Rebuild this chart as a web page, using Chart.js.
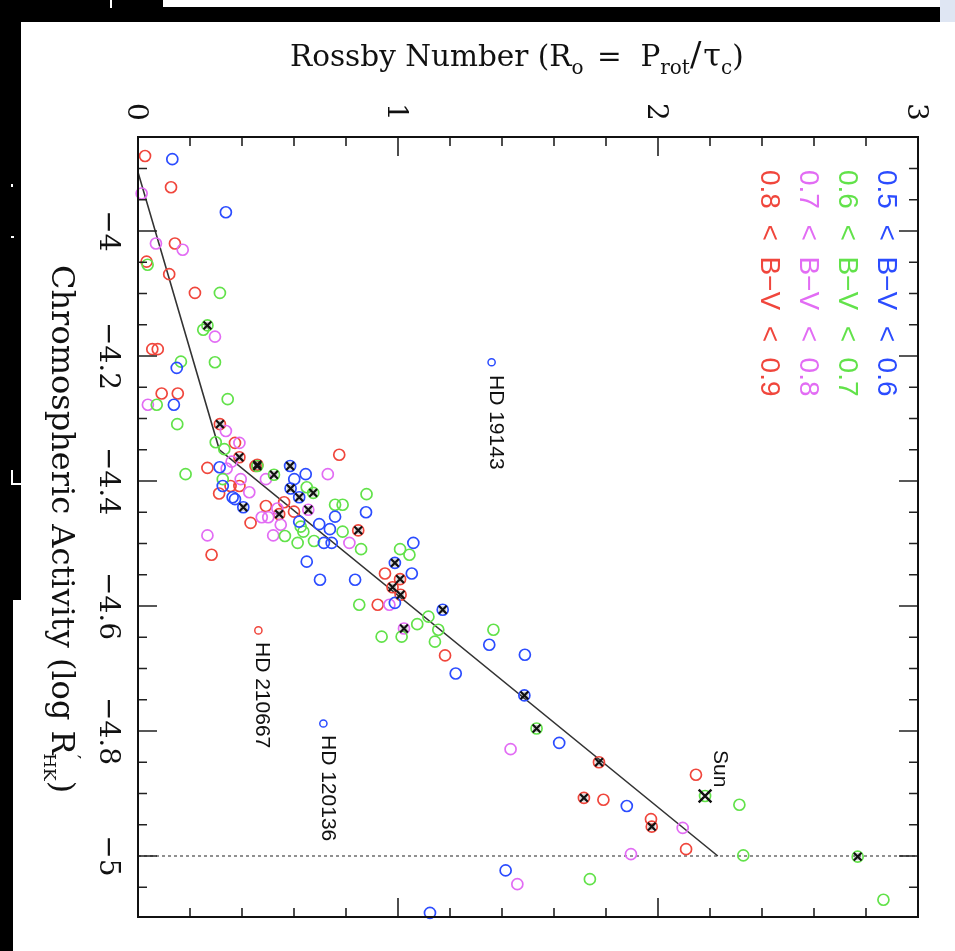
<!DOCTYPE html>
<html>
<head>
<meta charset="utf-8">
<script src="https://cdn.jsdelivr.net/npm/chart.js@4/dist/chart.umd.min.js"></script>
<style>
  html, body { margin:0; padding:0; background:#fff; }
  #wrap { position:relative; width:955px; height:951px; overflow:hidden; background:#fff; }
  canvas { position:absolute; left:0; top:0; }
  .blk { position:absolute; background:#000; }
  .wht { position:absolute; background:#fff; }
</style>
</head>
<body>
<div id="wrap">
  <canvas id="c" width="955" height="951"></canvas>
  <div class="blk" style="left:0;top:0;width:955px;height:22px"></div>
  <div class="wht" style="left:163px;top:0;width:777px;height:7px"></div>
  <div style="position:absolute;left:940px;top:0;width:15px;height:22px;background:#dfe6f3"></div>
  <div class="wht" style="left:110px;top:0;width:2px;height:8px"></div>
  <div class="blk" style="left:0;top:0;width:21px;height:600px"></div>
  <div class="blk" style="left:0;top:600px;width:13px;height:351px"></div>
  <div class="wht" style="left:11px;top:184px;width:2px;height:3px"></div>
  <div class="wht" style="left:11px;top:236px;width:3px;height:2px"></div>
  <div class="wht" style="left:11px;top:470px;width:2px;height:14px"></div>
  <div class="wht" style="left:11px;top:483px;width:10px;height:2px"></div>
</div>
<script>
// ---------- data (x = Rossby number, y = log R'HK) ----------
const bluePts = [[0.132,-3.885],[0.338,-3.970],[0.149,-4.219],[0.138,-4.278],[0.314,-4.378],[0.645,-4.389],
  [0.601,-4.397],[0.326,-4.408],[0.364,-4.426],[0.373,-4.429],[0.877,-4.450],[0.758,-4.457],[0.620,-4.465],
  [0.697,-4.469],[0.738,-4.477],[0.715,-4.499],[0.745,-4.499],[1.059,-4.499],[0.649,-4.529],[1.053,-4.548],
  [0.700,-4.558],[0.835,-4.558],[0.988,-4.595],[1.351,-4.662],[1.488,-4.678],[1.222,-4.708],[1.620,-4.819],
  [1.880,-4.920],[1.414,-5.023],[1.123,-5.091]];
const blueCross = [[0.585,-4.376],[0.587,-4.412],[0.620,-4.426],[0.405,-4.442],[0.988,-4.531],[1.172,-4.606],[1.486,-4.743]];

const greenPts = [[0.037,-4.054],[0.315,-4.099],[0.251,-4.158],[0.165,-4.209],[0.296,-4.210],[0.345,-4.269],
  [0.072,-4.278],[0.151,-4.309],[0.299,-4.338],[0.332,-4.349],[0.183,-4.389],[0.326,-4.397],[0.649,-4.410],
  [0.879,-4.421],[0.758,-4.438],[0.787,-4.438],[0.626,-4.473],[0.636,-4.481],[0.787,-4.481],[0.565,-4.488],
  [0.614,-4.499],[0.677,-4.496],[1.008,-4.509],[0.858,-4.509],[1.044,-4.518],[0.851,-4.598],[1.117,-4.617],
  [1.074,-4.629],[1.367,-4.638],[1.155,-4.638],[0.937,-4.649],[1.014,-4.649],[1.142,-4.657],[2.313,-4.918],
  [2.328,-4.999],[1.738,-5.037],[2.867,-5.070]];
const greenCross = [[0.267,-4.151],[0.459,-4.376],[0.523,-4.390],[0.674,-4.419],[1.533,-4.796],[2.768,-5.001]];

const magentaPts = [[0.014,-3.940],[0.069,-4.020],[0.172,-4.030],[0.296,-4.169],[0.038,-4.278],[0.338,-4.320],
  [0.390,-4.339],[0.360,-4.369],[0.341,-4.380],[0.730,-4.389],[0.492,-4.397],[0.395,-4.397],[0.428,-4.418],
  [0.536,-4.444],[0.476,-4.458],[0.501,-4.458],[0.549,-4.470],[0.267,-4.487],[0.520,-4.487],[0.813,-4.499],
  [0.967,-4.598],[1.433,-4.829],[2.095,-4.955],[1.896,-4.997],[1.459,-5.045]];
const magentaCross = [[0.655,-4.446],[1.023,-4.636]];

const redPts = [[0.027,-3.880],[0.127,-3.930],[0.142,-4.020],[0.033,-4.049],[0.120,-4.069],[0.219,-4.099],
  [0.055,-4.189],[0.076,-4.189],[0.091,-4.260],[0.153,-4.260],[0.373,-4.339],[0.774,-4.358],[0.267,-4.379],
  [0.452,-4.376],[0.356,-4.408],[0.390,-4.408],[0.312,-4.420],[0.492,-4.440],[0.562,-4.434],[0.600,-4.449],
  [0.433,-4.467],[0.283,-4.518],[0.950,-4.548],[0.922,-4.598],[1.181,-4.679],[2.146,-4.870],[1.973,-4.941],
  [2.108,-4.989],[1.790,-4.910]];
const redCross = [[0.315,-4.309],[0.390,-4.362],[0.459,-4.374],[0.543,-4.453],[0.847,-4.479],[1.008,-4.557],
  [0.979,-4.570],[1.010,-4.582],[1.773,-4.850],[1.715,-4.907],[1.976,-4.953]];

const sunPt = [[2.181,-4.904]];
const namedStars = ['HD 19143','HD 210667','HD 120136'];
const namedRo  = [1.360, 0.463, 0.713];
const namedLog = [-4.210, -4.639, -4.788];
const namedColor = ['blue','red','blue'];

const fitRo  = [0.0, 0.313, 2.23];
const fitLog = [-3.906, -4.350, -5.0];
const refLevel = -5;

const xTickLabels = ['0','1','2','3'];
const yTickValues = [-4, -4.2, -4.4, -4.6, -4.8, -5];
const legendLabels = ['0.5  <  B\u2212V  <  0.6','0.6  <  B\u2212V  <  0.7','0.7  <  B\u2212V  <  0.8','0.8  <  B\u2212V  <  0.9'];

const COL = { blue:'#2b4cff', green:'#62e24a', magenta:'#e26cf4', red:'#f0463c' };
const legendCols = [COL.blue, COL.green, COL.magenta, COL.red];

const xy = a => a.map(([x,y]) => ({x, y}));

function circles(pts, color, r) {
  return { type:'scatter', data: xy(pts), pointStyle:'circle', pointRadius: r || 5.5,
    borderColor: color, backgroundColor:'rgba(0,0,0,0)', pointBorderWidth:1.7, order:5, clip:false };
}
function crosses(pts, r, w) {
  return { type:'scatter', data: xy(pts), pointStyle:'crossRot', pointRadius: r || 5.5,
    borderColor:'#111', backgroundColor:'#111', pointBorderWidth: w || 2.1, order:1, clip:false };
}
function shade(pts) {
  return { type:'scatter', data: xy(pts), pointStyle:'rect', pointRadius: 5,
    borderColor:'rgba(0,0,0,0)', backgroundColor:'rgba(60,60,60,0.28)', pointBorderWidth:0, order:2, clip:false };
}

const named = namedStars.map((n,i) => ({x:namedRo[i], y:namedLog[i], c:COL[namedColor[i]]}));
const allCross = blueCross.concat(greenCross, magentaCross, redCross);

const datasets = [
  { type:'line', data: fitRo.map((v,i)=>({x:v, y:fitLog[i]})), borderColor:'#333', borderWidth:1.6,
    pointRadius:0, fill:false, tension:0, order:10 },
  { type:'line', data: [{x:0,y:refLevel},{x:3,y:refLevel}], borderColor:'#555', borderWidth:1.3,
    borderDash:[3,3], pointRadius:0, fill:false, order:10 },
  circles(bluePts.concat(blueCross), COL.blue),
  circles(greenPts.concat(greenCross, sunPt), COL.green),
  circles(magentaPts.concat(magentaCross), COL.magenta),
  circles(redPts.concat(redCross), COL.red),
  { type:'scatter', data: named.map(p=>({x:p.x,y:p.y})), pointStyle:'circle', pointRadius:3.6,
    borderColor: named.map(p=>p.c), backgroundColor:'rgba(0,0,0,0)', pointBorderWidth:1.5, order:5, clip:false },
  shade(allCross),
  crosses(allCross),
  crosses(sunPt, 9, 2.4)
];

function vtext(ctx, str, x, y, font, color, align) {
  ctx.save();
  ctx.translate(x, y);
  ctx.rotate(Math.PI/2);
  ctx.font = font; ctx.fillStyle = color;
  ctx.textAlign = align || 'left'; ctx.textBaseline = 'alphabetic';
  ctx.fillText(str, 0, 0);
  ctx.restore();
}
function runs(ctx, parts, x, y, angle, family) {
  ctx.save();
  ctx.translate(x, y);
  ctx.rotate(angle);
  ctx.fillStyle = '#111'; ctx.textAlign = 'left'; ctx.textBaseline = 'alphabetic';
  let cx = 0;
  for (const p of parts) {
    ctx.font = p.size + 'px ' + family;
    ctx.fillText(p.t, cx, p.dy || 0);
    cx += ctx.measureText(p.t).width + (p.gap || 0);
  }
  ctx.restore();
}

const deco = {
  id:'deco',
  afterDraw(chart) {
    const {ctx, chartArea:{left,right,top,bottom}, scales:{x, y}} = chart;
    ctx.save();
    ctx.strokeStyle = '#222'; ctx.lineWidth = 1.6;
    for (let i = 0; i <= 15; i++) {
      const v = i * 0.2, px = x.getPixelForValue(v), major = (i % 5 === 0);
      const L = major ? 19 : 9;
      ctx.beginPath();
      ctx.moveTo(px, top); ctx.lineTo(px, top + L);
      ctx.moveTo(px, bottom); ctx.lineTo(px, bottom - L);
      ctx.stroke();
    }
    for (let i = 0; i <= 30; i++) {
      const v = -5.1 + i * 0.05;
      if (v < y.min || v > y.max) continue;
      const py = y.getPixelForValue(v);
      const k = Math.round(v * 100);
      const major = (k % 20 === 0);
      const L = major ? 19 : 9;
      ctx.beginPath();
      ctx.moveTo(left, py); ctx.lineTo(left + L, py);
      ctx.moveTo(right, py); ctx.lineTo(right - L, py);
      ctx.stroke();
    }
    ctx.lineWidth = 2; ctx.strokeStyle = '#111';
    ctx.strokeRect(left, top, right - left, bottom - top);
    ctx.restore();

    const serif = '"DejaVu Serif"';
    xTickLabels.forEach(t => {
      const px = x.getPixelForValue(parseFloat(t));
      vtext(ctx, t, px - 10, 112, '28px ' + serif, '#111', 'center');
    });
    yTickValues.forEach(v => {
      const py = y.getPixelForValue(v);
      vtext(ctx, String(v).replace('-', '\u2212'), 100, py, '28px ' + serif, '#111', 'center');
    });
    runs(ctx, [
      {t:'Rossby Number (R', size:29.5},
      {t:'o', size:20, dy:8, gap:4},
      {t:' =  P', size:29.5},
      {t:'rot', size:20, dy:8},
      {t:'/', size:34, gap:2},
      {t:'\u03C4', size:32},
      {t:'c', size:20, dy:8},
      {t:')', size:29.5}
    ], 290, 66, 0, serif);
    runs(ctx, [
      {t:'Chromospheric Activity (log R', size:32},
      {t:'\u2032', size:20, dy:-14, gap:-6},
      {t:'HK', size:17, dy:8},
      {t:')', size:32}
    ], 52, 265, Math.PI/2, serif);

    const sans = '"Liberation Sans"';
    const legX = [878, 839, 800, 761];
    legendLabels.forEach((t, i) => vtext(ctx, t, legX[i], 170, '28px ' + sans, legendCols[i], 'left'));

    const labPos = [[490, 375], [256, 642], [322, 735]];
    namedStars.forEach((n, i) => vtext(ctx, n, labPos[i][0], labPos[i][1], '21px ' + sans, '#111', 'left'));
    vtext(ctx, 'Sun', 714, 750, '21px ' + sans, '#111', 'left');
  }
};

new Chart(document.getElementById('c'), {
  type: 'scatter',
  data: { datasets },
  options: {
    responsive:false, animation:false, devicePixelRatio:1,
    layout: { padding: { left:138, right:37, top:137, bottom:34 } },
    plugins: { legend:{display:false}, tooltip:{enabled:false}, title:{display:false} },
    scales: {
      x: { type:'linear', display:false, min:0, max:3 },
      y: { type:'linear', display:false, min:-5.0976, max:-3.8496 }
    }
  },
  plugins: [deco]
});
</script>
</body>
</html>
